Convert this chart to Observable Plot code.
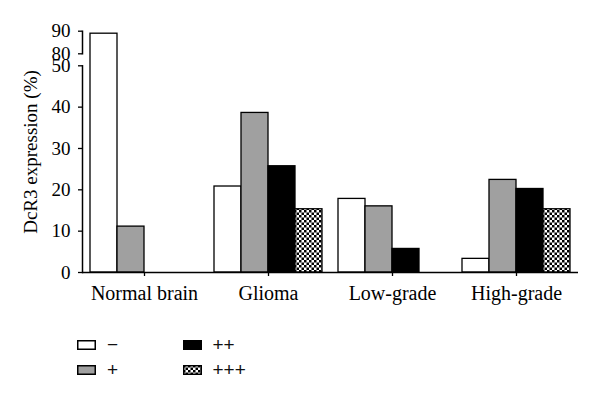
<!DOCTYPE html>
<html><head><meta charset="utf-8">
<script src="https://cdn.jsdelivr.net/npm/d3@7"></script>
<script src="https://cdn.jsdelivr.net/npm/@observablehq/plot@0.6"></script>
<style>
body{margin:0;background:#fff;}
#chart{position:relative;width:600px;height:402px;background:#fff;}
#chart svg{display:block;}
#legend{position:absolute;left:77px;top:340px;display:grid;grid-template-rows:25px 25px;grid-auto-flow:column;grid-auto-columns:105.5px;}
.leg{display:flex;align-items:flex-start;font-family:"Liberation Sans",Arial,sans-serif;font-size:19px;color:#111;line-height:10px;}
.leg svg{margin-right:11px;flex:none;}
.leg span{position:relative;top:-0.5px;}
</style></head><body><div id="chart"></div>
<script>
const groups = ["Normal brain", "Glioma", "Low-grade", "High-grade"];
const series = ["\u2212", "+", "++", "+++"];
const valuesMinus = [88.9, 20.8, 17.8, 3.3];
const valuesPlus = [11.1, 38.6, 16.0, 22.4];
const valuesPlus2 = [0, 25.7, 5.7, 20.2];
const valuesPlus3 = [0, 15.3, 0, 15.3];
const yTicks = [0, 10, 20, 30, 40, 50, 80, 90];
const yBreakDomain = [0, 50, 80, 90];
const fills = ["#ffffff", "#a0a0a0", "#000000", "url(#checker)"];
const yLabel = "DcR3 expression (%)";

const table = [];
[valuesMinus, valuesPlus, valuesPlus2, valuesPlus3].forEach((vals, si) =>
  vals.forEach((v, gi) => table.push({group: groups[gi], series: series[si], value: v})));

// layout
const W = 600, H = 320, mL = 82, mR = 20, mT = 31, mB = 48;
const yRange = [H - mB, 65.3, 53.3, mT - 0.3];
const yPix = d3.scaleLinear().domain(yBreakDomain).range(yRange);

const plot = Plot.plot({
  width: W, height: H,
  marginLeft: mL, marginRight: mR, marginTop: mT, marginBottom: mB,
  facetMarginLeft: 0, facetMarginRight: 0, facetMarginTop: 0, facetMarginBottom: 0,
  style: {fontFamily: "'Liberation Serif', 'Times New Roman', serif", fontSize: "19px", background: "white", color: "#000", overflow: "visible"},
  fx: {domain: groups, range: [mL, W - mR - 2], padding: 0, label: null},
  x: {domain: series, paddingInner: 0, paddingOuter: 0.2545, axis: null},
  y: {type: "linear", domain: yBreakDomain, range: yRange},
  color: {domain: series, range: fills},
  marks: [
    Plot.barY(table.filter(d => d.value > 0), {fx: "group", x: "series", y: "value", fill: "series", stroke: "black", strokeWidth: 1.3}),
    Plot.ruleY([0], {stroke: "black", strokeWidth: 1.3}),
    Plot.axisY({ticks: yTicks, tickFormat: d => String(d), tickSize: 4, tickPadding: 8, strokeWidth: 1.3,
      label: yLabel, labelAnchor: "center", labelOffset: 59, labelArrow: "none"}),
    Plot.axisFx({anchor: "bottom", tickSize: 4, tickPadding: 9, strokeWidth: 1.3, label: null, fontSize: 20}),
    // broken y-axis line: lower part 0–50 and upper part 80–90
    Plot.frame({facet: "super", anchor: "left", insetTop: yPix(yBreakDomain[1]) - mT, stroke: "black", strokeWidth: 1.5}),
    Plot.frame({facet: "super", anchor: "left", insetTop: yPix(yBreakDomain[3]) - mT, insetBottom: (H - mB) - yPix(yBreakDomain[2]), stroke: "black", strokeWidth: 1.5})
  ]
});

// pattern for the +++ series
const svg = d3.select(plot);
const defs = svg.insert("defs", ":first-child");
const pat = defs.append("pattern").attr("id", "checker").attr("width", 5).attr("height", 5).attr("patternUnits", "userSpaceOnUse");
pat.append("rect").attr("width", 5).attr("height", 5).attr("fill", "white");
pat.append("rect").attr("width", 2.5).attr("height", 2.5).attr("fill", "black");
pat.append("rect").attr("x", 2.5).attr("y", 2.5).attr("width", 2.5).attr("height", 2.5).attr("fill", "black");

const chart = document.getElementById("chart");
chart.appendChild(plot);

// legend
const legend = document.createElement("div");
legend.id = "legend";
series.forEach((s, i) => {
  const item = document.createElement("div");
  item.className = "leg";
  item.innerHTML = `<svg width="19" height="10"><rect x="0.75" y="0.75" width="17.5" height="8.5" fill="${fills[i]}" stroke="black" stroke-width="1.5"/></svg><span>${s}</span>`;
  legend.appendChild(item);
});
chart.appendChild(legend);
</script></body></html>
